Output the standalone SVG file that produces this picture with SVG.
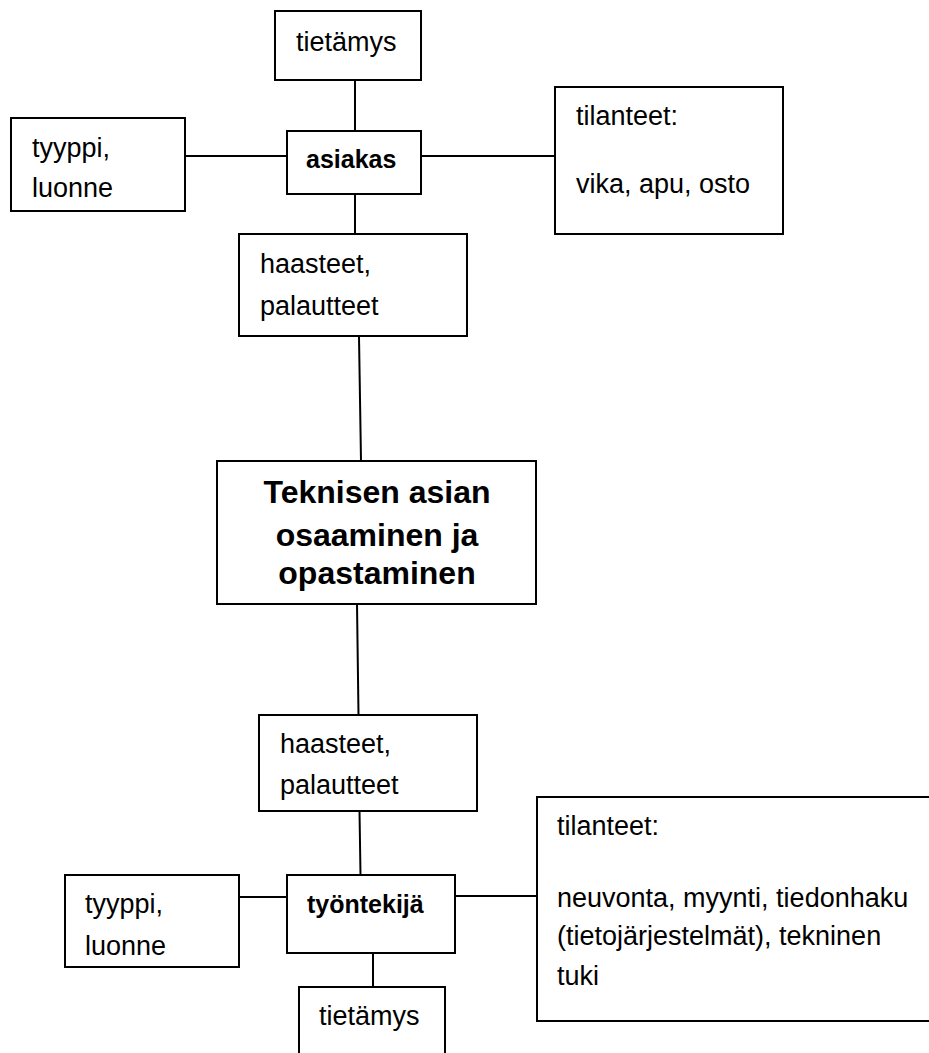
<svg xmlns="http://www.w3.org/2000/svg" width="929" height="1053" viewBox="0 0 929 1053">
<style>
.box{fill:#fff;stroke:#000;stroke-width:2}
.t{font-family:"Liberation Sans",Arial,sans-serif;font-size:27px;fill:#000}
.b{font-family:"Liberation Sans",Arial,sans-serif;font-size:25px;font-weight:bold;fill:#000}
.m{font-family:"Liberation Sans",Arial,sans-serif;font-size:32px;font-weight:bold;fill:#000;text-anchor:middle}
.c{stroke:#000;stroke-width:2;fill:none}
</style>
<rect width="929" height="1053" fill="#fff"/>
<g id="connectors">
<line class="c" x1="355" y1="80" x2="355" y2="131"/>
<line class="c" x1="185" y1="156" x2="287" y2="156"/>
<line class="c" x1="421" y1="156" x2="555" y2="156"/>
<line class="c" x1="355" y1="194" x2="355" y2="234"/>
<line class="c" x1="359" y1="337" x2="361" y2="461"/>
<line class="c" x1="357" y1="604" x2="358.5" y2="715"/>
<line class="c" x1="359.5" y1="811" x2="360.5" y2="875"/>
<line class="c" x1="239" y1="897" x2="287" y2="897"/>
<line class="c" x1="455" y1="896" x2="537" y2="896"/>
<line class="c" x1="373" y1="953" x2="373" y2="987"/>
</g>
<g id="tietamys1">
<rect class="box" x="275" y="11" width="146" height="69"/>
<text class="t" x="296" y="51">tietämys</text>
</g>
<g id="asiakas">
<rect class="box" x="287" y="131" width="134" height="63"/>
<text class="b" x="306" y="168">asiakas</text>
</g>
<g id="tyyppi1">
<rect class="box" x="11" y="118" width="174" height="93"/>
<text class="t" x="32" y="157">tyyppi,</text>
<text class="t" x="32" y="197">luonne</text>
</g>
<g id="tilanteet1">
<rect class="box" x="555" y="87" width="228" height="147"/>
<text class="t" x="576" y="125">tilanteet:</text>
<text class="t" x="576" y="193">vika, apu, osto</text>
</g>
<g id="haasteet1">
<rect class="box" x="239" y="234" width="228" height="102"/>
<text class="t" x="260" y="273">haasteet,</text>
<text class="t" x="260" y="315">palautteet</text>
</g>
<g id="main">
<rect class="box" x="217" y="461" width="319" height="143"/>
<text class="m" x="377" y="503">Teknisen asian</text>
<text class="m" x="377" y="546">osaaminen ja</text>
<text class="m" x="377" y="584">opastaminen</text>
</g>
<g id="haasteet2">
<rect class="box" x="259" y="715" width="218" height="96"/>
<text class="t" x="280" y="753">haasteet,</text>
<text class="t" x="280" y="794">palautteet</text>
</g>
<g id="tyontekija">
<rect class="box" x="287" y="875" width="168" height="78"/>
<text class="b" x="307" y="913">työntekijä</text>
</g>
<g id="tyyppi2">
<rect class="box" x="65" y="875" width="174" height="92"/>
<text class="t" x="85" y="913">tyyppi,</text>
<text class="t" x="85" y="955">luonne</text>
</g>
<g id="tilanteet2">
<rect class="box" x="537" y="797" width="400" height="224"/>
<text class="t" x="557" y="835">tilanteet:</text>
<text class="t" x="557" y="907">neuvonta, myynti, tiedonhaku</text>
<text class="t" x="557" y="945">(tietojärjestelmät), tekninen</text>
<text class="t" x="557" y="985">tuki</text>
</g>
<g id="tietamys2">
<rect class="box" x="299" y="987" width="146" height="80"/>
<text class="t" x="319" y="1025">tietämys</text>
</g>
</svg>
